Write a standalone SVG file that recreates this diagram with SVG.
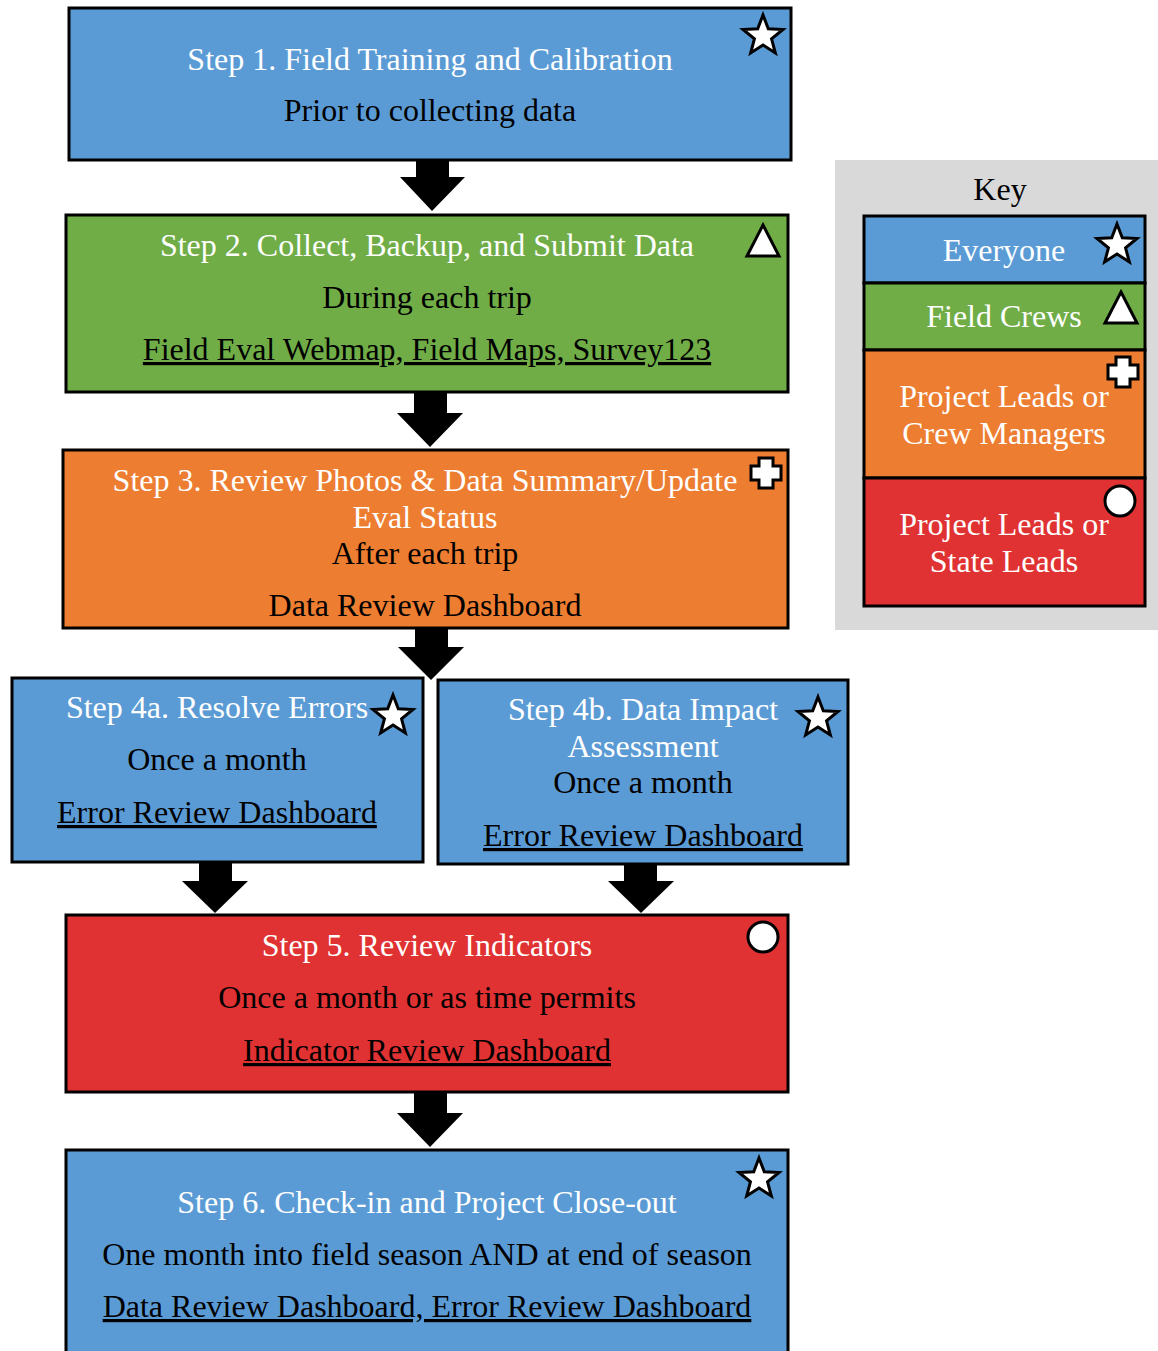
<svg xmlns="http://www.w3.org/2000/svg" width="1158" height="1351" viewBox="0 0 1158 1351">
<style>
.box{stroke:#000;stroke-width:3}
.blue{fill:#5B9BD5}.green{fill:#70AD47}.orange{fill:#ED7D31}.red{fill:#E03232}
text{font-family:"Liberation Serif","Times New Roman",serif;font-size:32px;text-anchor:middle}
.w{fill:#fff}.k{fill:#000}
.u{text-decoration:underline}
.icon{fill:#fff;stroke:#000;stroke-width:3;stroke-linejoin:miter}
.arrow{fill:#000}
</style>
<defs>
<path id="star" d="M0,-21 L5.29,-7.28 L19.97,-6.49 L8.56,2.78 L12.34,16.99 L0,9 L-12.34,16.99 L-8.56,2.78 L-19.97,-6.49 L-5.29,-7.28 Z"/>
<path id="tri" d="M0,-16 L16,15 L-16,15 Z"/>
<path id="plus" d="M-7,-15 h14 v8 h8 v14 h-8 v8 h-14 v-8 h-8 v-14 h8 z"/>
</defs>
<rect width="1158" height="1351" fill="#fff"/>

<g id="connectors">
<polygon class="arrow" points="416,160 449,160 449,177 465,177 432,211 400,177 416,177"/>
<polygon class="arrow" points="414,392 447,392 447,413 463,413 430,447 397,413 414,413"/>
<polygon class="arrow" points="415,628 448,628 448,647 464,647 431,680 398,647 415,647"/>
<polygon class="arrow" points="199,862 232,862 232,881 248,881 215,913 182,881 199,881"/>
<polygon class="arrow" points="624,864 657,864 657,881 674,881 641,913 608,881 624,881"/>
<polygon class="arrow" points="414,1092 447,1092 447,1113 463,1113 430,1147 397,1113 414,1113"/>
</g>

<g id="step1">
<rect class="box blue" x="69" y="8" width="722" height="152"/>
<text class="w" x="430" y="70">Step 1. Field Training and Calibration</text>
<text class="k" x="430" y="121">Prior to collecting data</text>
<use href="#star" class="icon" x="763" y="36"/>
</g>

<g id="step2">
<rect class="box green" x="66" y="215" width="722" height="177"/>
<text class="w" x="427" y="256">Step 2. Collect, Backup, and Submit Data</text>
<text class="k" x="427" y="308">During each trip</text>
<text class="k u" x="427" y="360">Field Eval Webmap, Field Maps, Survey123</text>
<use href="#tri" class="icon" x="763" y="241"/>
</g>

<g id="step3">
<rect class="box orange" x="63" y="450" width="725" height="178"/>
<text class="w" x="425" y="491">Step 3. Review Photos &amp; Data Summary/Update</text>
<text class="w" x="425" y="528">Eval Status</text>
<text class="k" x="425" y="564">After each trip</text>
<text class="k" x="425" y="616">Data Review Dashboard</text>
<use href="#plus" class="icon" x="766" y="473"/>
</g>

<g id="step4a">
<rect class="box blue" x="12" y="678" width="411" height="184"/>
<text class="w" x="217" y="718">Step 4a. Resolve Errors</text>
<text class="k" x="217" y="770">Once a month</text>
<text class="k u" x="217" y="823">Error Review Dashboard</text>
<use href="#star" class="icon" x="393" y="716"/>
</g>

<g id="step4b">
<rect class="box blue" x="438" y="680" width="410" height="184"/>
<text class="w" x="643" y="720">Step 4b. Data Impact</text>
<text class="w" x="643" y="757">Assessment</text>
<text class="k" x="643" y="793">Once a month</text>
<text class="k u" x="643" y="846">Error Review Dashboard</text>
<use href="#star" class="icon" x="818" y="718"/>
</g>

<g id="step5">
<rect class="box red" x="66" y="915" width="722" height="177"/>
<text class="w" x="427" y="956">Step 5. Review Indicators</text>
<text class="k" x="427" y="1008">Once a month or as time permits</text>
<text class="k u" x="427" y="1061">Indicator Review Dashboard</text>
<circle class="icon" cx="763" cy="937" r="15"/>
</g>

<g id="step6">
<rect class="box blue" x="66" y="1150" width="722" height="215"/>
<text class="w" x="427" y="1213">Step 6. Check-in and Project Close-out</text>
<text class="k" x="427" y="1265">One month into field season AND at end of season</text>
<text class="k u" x="427" y="1317">Data Review Dashboard, Error Review Dashboard</text>
<use href="#star" class="icon" x="759" y="1179"/>
</g>

<g id="key">
<rect x="835" y="160" width="330" height="470" fill="#D9D9D9"/>
<text class="k" x="1000" y="200">Key</text>
<g id="key-everyone">
<rect class="box blue" x="864" y="216" width="281" height="67"/>
<text class="w" x="1004" y="261">Everyone</text>
<use href="#star" class="icon" x="1117" y="245"/>
</g>
<g id="key-fieldcrews">
<rect class="box green" x="864" y="283" width="281" height="67"/>
<text class="w" x="1004" y="327">Field Crews</text>
<use href="#tri" class="icon" x="1121" y="308"/>
</g>
<g id="key-crewmanagers">
<rect class="box orange" x="864" y="350" width="281" height="128"/>
<text class="w" x="1004" y="407">Project Leads or</text>
<text class="w" x="1004" y="444">Crew Managers</text>
<use href="#plus" class="icon" x="1123" y="372"/>
</g>
<g id="key-stateleads">
<rect class="box red" x="864" y="478" width="281" height="128"/>
<text class="w" x="1004" y="535">Project Leads or</text>
<text class="w" x="1004" y="572">State Leads</text>
<circle class="icon" cx="1120" cy="501" r="15"/>
</g>
</g>
</svg>
